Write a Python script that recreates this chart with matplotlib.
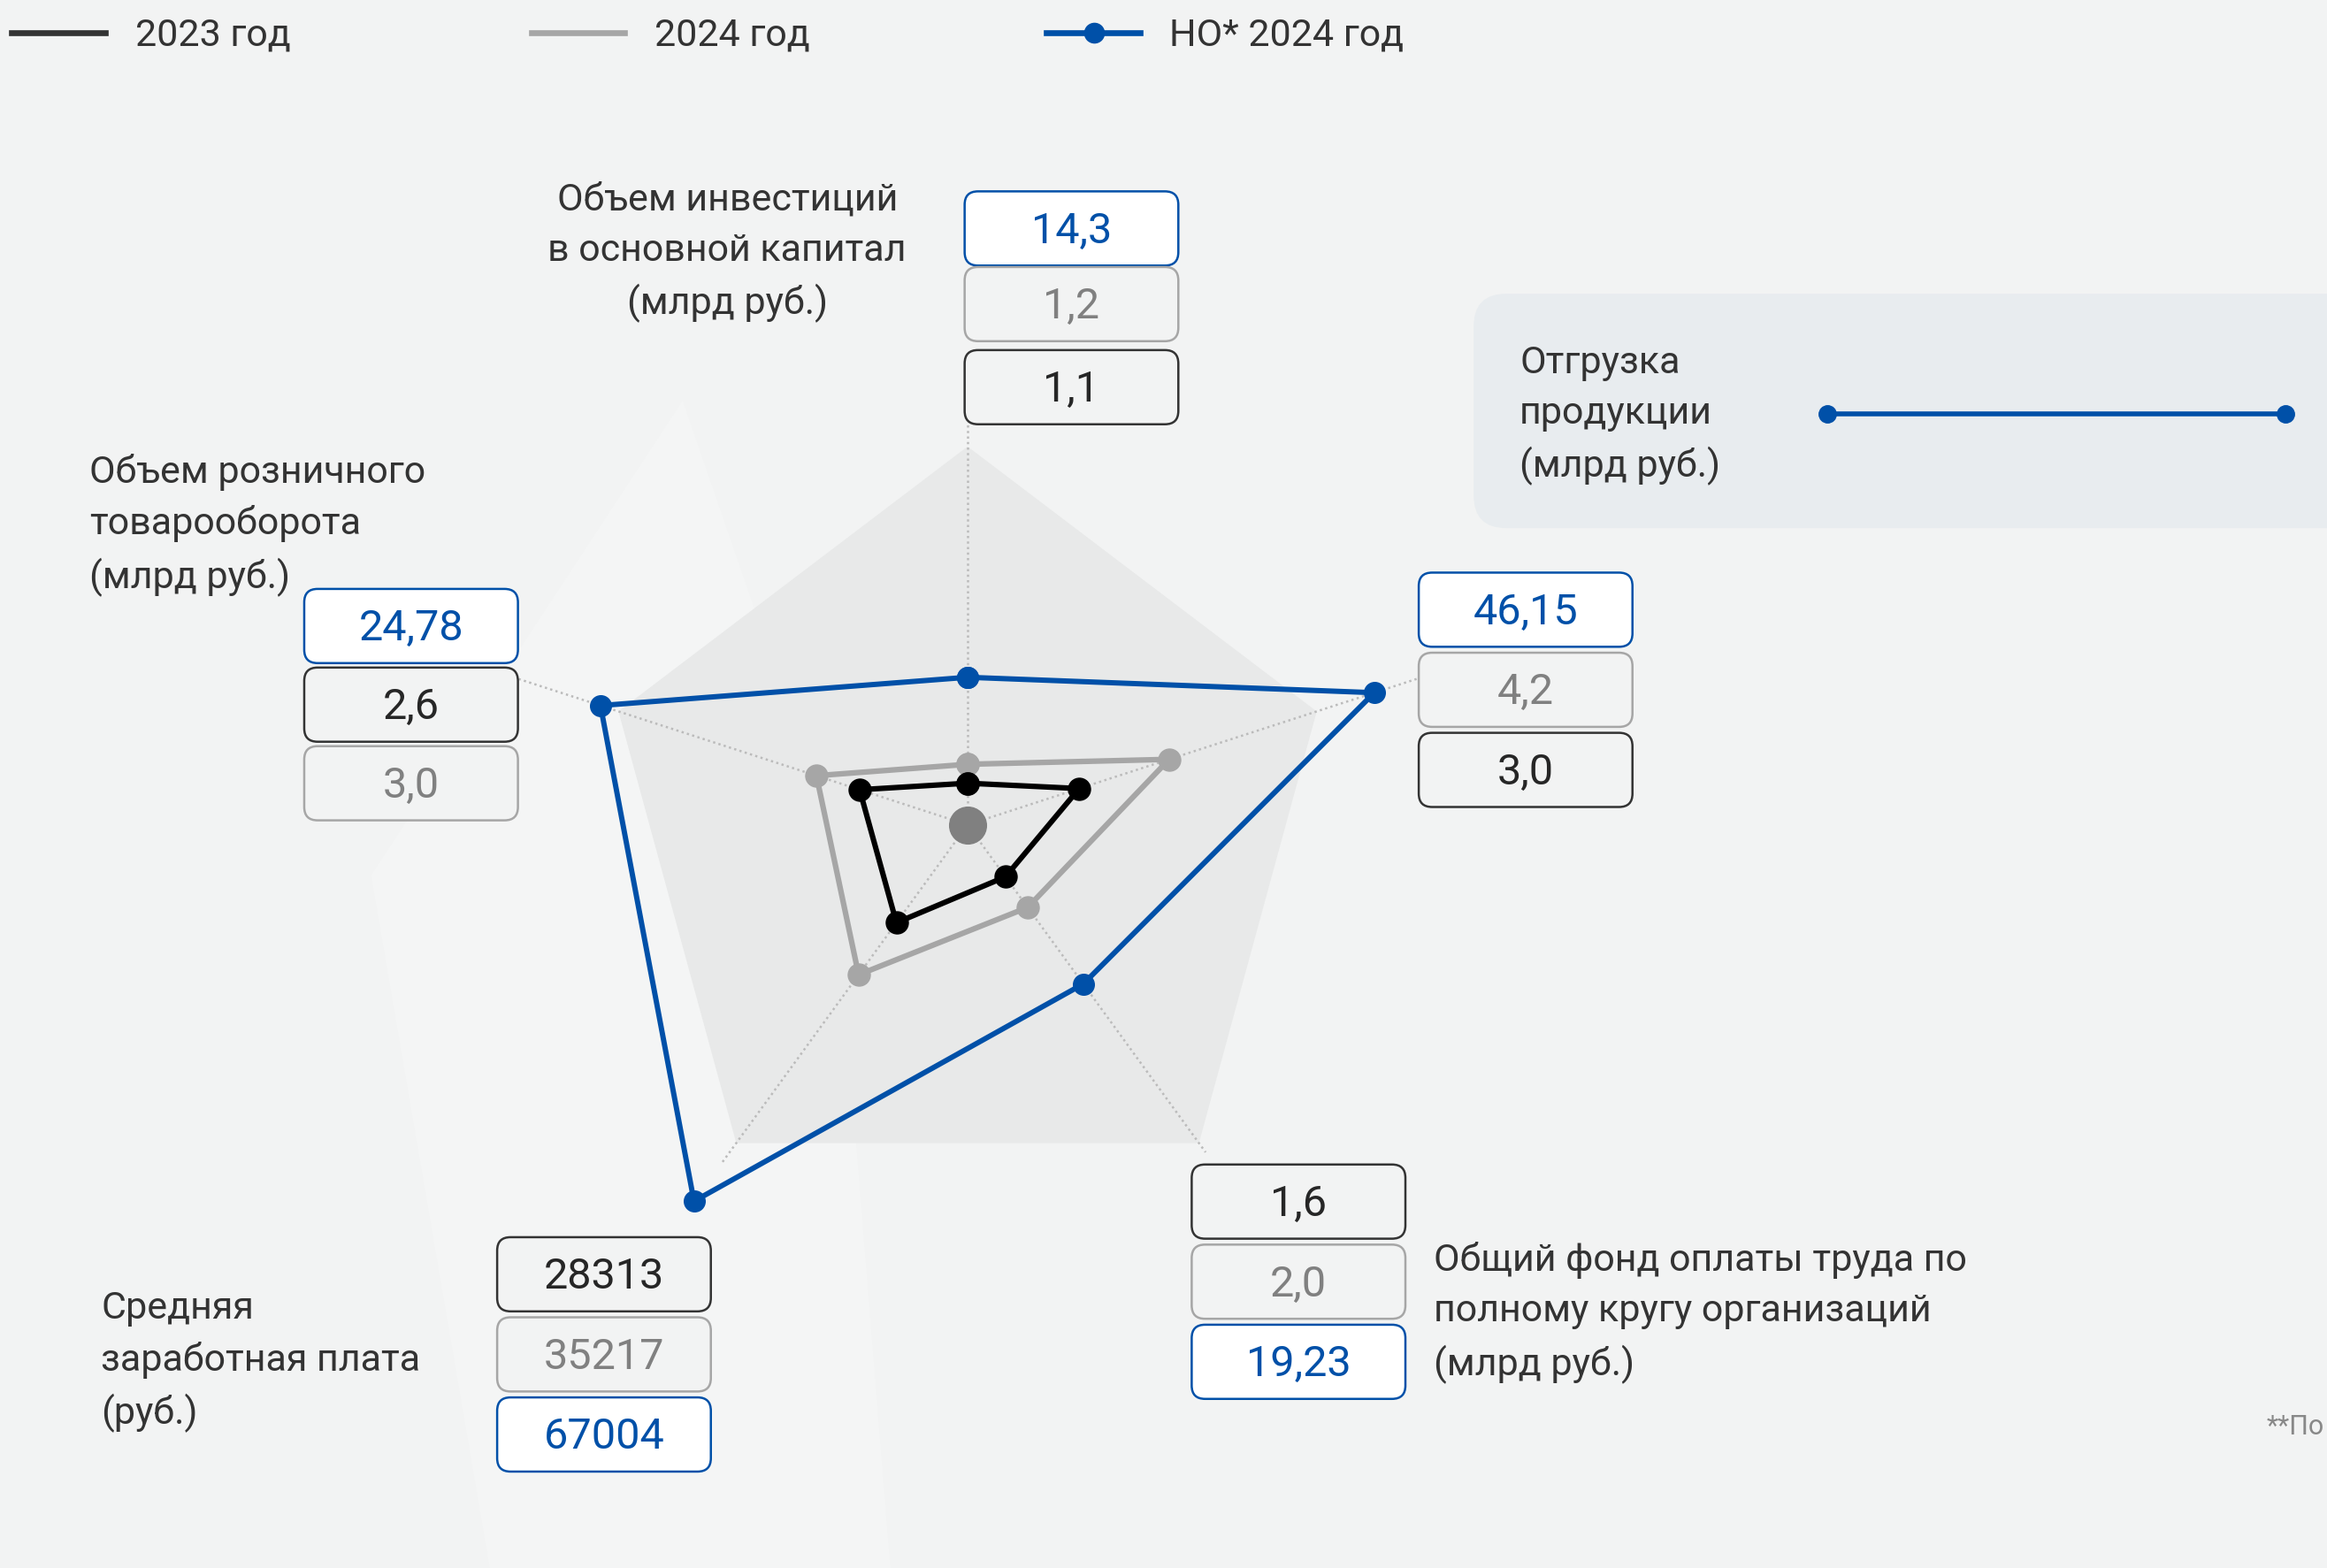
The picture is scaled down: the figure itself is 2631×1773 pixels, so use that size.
import numpy as np
import matplotlib
matplotlib.use("Agg")
import matplotlib.pyplot as plt
from matplotlib.patches import FancyBboxPatch, Polygon

plt.rcParams['font.family'] = ['Roboto', 'DejaVu Sans']

# axes of the radar, clockwise from top
categories = ['Объем инвестиций\nв основной капитал\n(млрд руб.)',
              'Отгрузка\nпродукции\n(млрд руб.)',
              'Общий фонд оплаты труда по\nполному кругу организаций\n(млрд руб.)',
              'Средняя\nзаработная плата\n(руб.)',
              'Объем розничного\nтоварооборота\n(млрд руб.)']
series_names = ['2023 год', '2024 год', 'НО* 2024 год']

# values printed in the boxes
labels_2023 = ['1,1', '3,0', '1,6', '28313', '2,6']
labels_2024 = ['1,2', '4,2', '2,0', '35217', '3,0']
labels_no = ['14,3', '46,15', '19,23', '67004', '24,78']

# radial position of each point as drawn (outer pentagon = 1)
r_2023 = [0.11, 0.31, 0.17, 0.32, 0.30]
r_2024 = [0.16, 0.56, 0.27, 0.49, 0.42]
r_no = [0.39, 1.13, 0.52, 1.23, 1.02]

W, H = 1568, 1057
cx, cy, R0 = 652, 556, 255
angles = np.deg2rad([90, 18, -54, -126, 162])
spoke_len = [1.06, 1.27, 1.07, 1.11, 1.27]

BG = '#f2f3f3'
BLUE = '#0050a8'
DARK = '#333333'
GRAY = '#a6a6a6'


def to_xy(r):
    r = np.asarray(r) * R0
    return cx + r * np.cos(angles), cy - r * np.sin(angles)


fig = plt.figure(figsize=(26.31, 17.73), dpi=100, facecolor=BG)
ax = fig.add_axes([0, 0, 1, 1])
ax.set_xlim(0, W)
ax.set_ylim(H, 0)
ax.set_facecolor(BG)
ax.axis('off')

# faint background shapes
ax.add_patch(Polygon([(460, 270), (250, 590), (330, 1057), (600, 1057), (560, 560)],
                     closed=True, color='#f4f5f5', zorder=0, lw=0))
px, py = to_xy([1.0, 0.97, 1.04, 1.04, 0.97])
ax.add_patch(Polygon(np.column_stack([px, py]), closed=True, color='#e8e9e9', zorder=1, lw=0))

# spokes
for a, s in zip(angles, spoke_len):
    ax.plot([cx, cx + s * R0 * np.cos(a)], [cy, cy - s * R0 * np.sin(a)],
            ls=(0, (1, 1.5)), color='#bbbbbb', lw=1.8, zorder=2)

ax.plot(cx, cy, 'o', color='#808080', ms=30, zorder=3)

for r, col, lw, ms in [(r_2024, GRAY, 4.5, 18), (r_2023, 'black', 4.4, 18), (r_no, BLUE, 4.3, 17)]:
    x, y = to_xy(r)
    ax.plot(np.append(x, x[0]), np.append(y, y[0]), '-o', color=col, lw=lw, ms=ms,
            zorder=4)

# value boxes: left x, top y of each series box per axis
box_w, box_h = 144, 50
box_pos = [
    (650, {'no': 129, '2024': 180, '2023': 236}),
    (956, {'no': 386, '2024': 440, '2023': 494}),
    (803, {'2023': 785, '2024': 839, 'no': 893}),
    (335, {'2023': 834, '2024': 888, 'no': 942}),
    (205, {'no': 397, '2023': 450, '2024': 503}),
]
styles = {
    '2023': (labels_2023, DARK, BG, '#262626'),
    '2024': (labels_2024, GRAY, BG, '#808080'),
    'no': (labels_no, BLUE, 'white', BLUE),
}
for i, (bx, tops) in enumerate(box_pos):
    for key, ty in tops.items():
        labs, ec, fc, tc = styles[key]
        ax.add_patch(FancyBboxPatch((bx, ty), box_w, box_h,
                                    boxstyle='round,pad=0,rounding_size=9',
                                    ec=ec, fc=fc, lw=1.8, zorder=6))
        ax.text(bx + box_w / 2, ty + box_h / 2 + 2, labs[i], ha='center', va='center',
                fontsize=35, color=tc, zorder=7)

# axis captions
txt = dict(fontsize=31, color=DARK, linespacing=1.5, va='center', zorder=7)
ax.text(490, 170, categories[0], ha='center', multialignment='center', **txt)
ax.text(966, 885, categories[2], ha='left', **txt)
ax.text(68, 918, categories[3], ha='left', **txt)
ax.text(60, 354, categories[4], ha='left', **txt)

# right panel for shipment
ax.add_patch(FancyBboxPatch((993, 198), 640, 158, boxstyle='round,pad=0,rounding_size=22',
                            fc='#e8ecef', ec='none', zorder=5))
ax.text(1024, 280, categories[1], ha='left', **txt)
ax.plot([1231, 1540], [279, 279], '-o', color=BLUE, lw=4.0, ms=14, zorder=6)

# legend
leg_x = [8, 358, 705]
leg_col = [DARK, GRAY, BLUE]
for name, lx, col in zip(series_names, leg_x, leg_col):
    ax.plot([lx, lx + 63], [22, 22], color=col, lw=4.8, zorder=7)
    ax.text(lx + 83, 24, name, ha='left', va='center', fontsize=31, color=DARK, zorder=7)
ax.plot(leg_x[2] + 32, 22, 'o', color=BLUE, ms=16, zorder=8)

ax.text(1527, 962, '**По', ha='left', va='center', fontsize=22, color='#888888', zorder=7)

fig.savefig('out.png', dpi=100, facecolor=BG)
